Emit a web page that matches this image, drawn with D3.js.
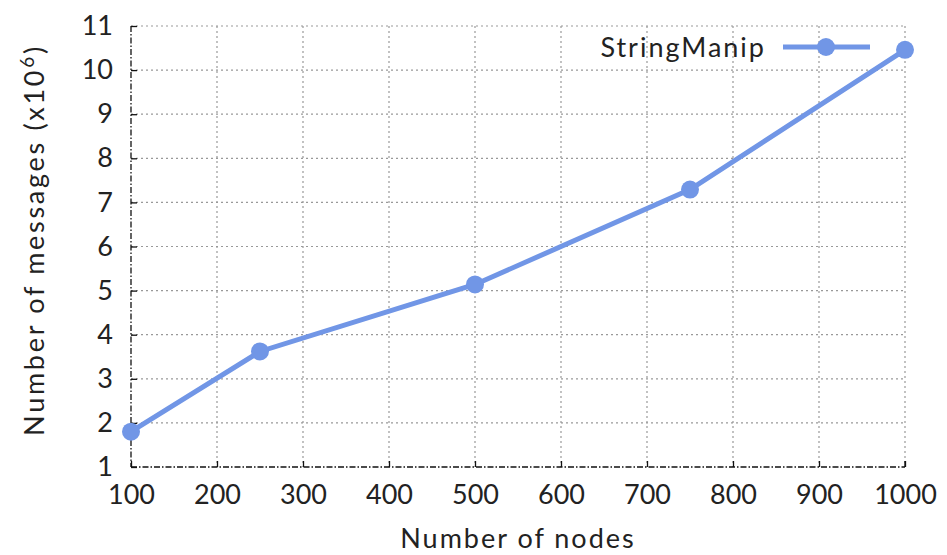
<!DOCTYPE html>
<html>
<head>
<meta charset="utf-8">
<script src="https://cdn.jsdelivr.net/npm/d3@7"></script>
<style>
  html, body { margin: 0; padding: 0; background: #fff; }
  svg { display: block; }
  text { font-family: Lato, "DejaVu Sans", sans-serif; fill: #222; }
</style>
</head>
<body>
<svg id="chart" width="947" height="555"></svg>
<script>
const nodes = [100, 250, 500, 750, 1000];
const messages = [1.8, 3.62, 5.14, 7.29, 10.46];
const seriesName = "StringManip";
const xTicks = [100, 200, 300, 400, 500, 600, 700, 800, 900, 1000];
const yTicks = [1, 2, 3, 4, 5, 6, 7, 8, 9, 10, 11];

const svg = d3.select("#chart");
const pLeft = 131, pRight = 905, pTop = 26, pBottom = 467;
const color = "#7196e6";

const x = d3.scaleLinear().domain([100, 1000]).range([pLeft, pRight]);
const y = d3.scaleLinear().domain([1, 11]).range([pBottom, pTop]);

// grid
const grid = svg.append("g");
grid.selectAll(".gx").data(xTicks.slice(1)).enter().append("line")
  .attr("x1", d => x(d)).attr("x2", d => x(d)).attr("y1", pTop).attr("y2", pBottom)
  .attr("stroke", "#999").attr("stroke-width", 1.2).attr("stroke-dasharray", "2,3");
grid.selectAll(".gy").data(yTicks.slice(1)).enter().append("line")
  .attr("x1", pLeft).attr("x2", pRight).attr("y1", d => y(d)).attr("y2", d => y(d))
  .attr("stroke", "#999").attr("stroke-width", 1.2).attr("stroke-dasharray", "2,3");

// axes frame (dash-dot)
svg.append("line").attr("x1", pLeft).attr("x2", pLeft).attr("y1", pTop).attr("y2", pBottom)
  .attr("stroke", "#111").attr("stroke-width", 1.3).attr("stroke-dasharray", "6,2,1.5,2");
svg.append("line").attr("x1", pLeft).attr("x2", pRight).attr("y1", pBottom).attr("y2", pBottom)
  .attr("stroke", "#111").attr("stroke-width", 1.3).attr("stroke-dasharray", "6,2,1.5,2");

// axes via d3
const xAxis = svg.append("g").attr("transform", `translate(0,${pBottom})`)
  .call(d3.axisBottom(x).tickValues(xTicks).tickSize(-6).tickPadding(22).tickFormat(d3.format("d")));
xAxis.select(".domain").remove();
xAxis.selectAll(".tick line").attr("stroke", "#111").attr("stroke-width", 1.3);
xAxis.selectAll(".tick text").attr("font-size", 27).attr("font-family", "Lato, sans-serif").attr("fill", "#2a2a2a").attr("dy", "0.71em").attr("y", 18);

const yAxis = svg.append("g").attr("transform", `translate(${pLeft},0)`)
  .call(d3.axisLeft(y).tickValues(yTicks).tickSize(-6).tickPadding(18).tickFormat(d3.format("d")));
yAxis.select(".domain").remove();
yAxis.selectAll(".tick line").attr("stroke", "#111").attr("stroke-width", 1.3);
yAxis.selectAll(".tick text").attr("font-size", 27).attr("font-family", "Lato, sans-serif").attr("fill", "#2a2a2a");

// right-side tick mark at x=1000
svg.append("line").attr("x1", pRight).attr("x2", pRight).attr("y1", pBottom).attr("y2", pBottom - 6)
  .attr("stroke", "#111").attr("stroke-width", 1.3);

// series
const data = nodes.map((n, i) => ({ n, v: messages[i] }));
svg.append("path").datum(data)
  .attr("fill", "none").attr("stroke", color).attr("stroke-width", 5)
  .attr("d", d3.line().x(d => x(d.n)).y(d => y(d.v)));
svg.selectAll(".pt").data(data).enter().append("circle")
  .attr("cx", d => x(d.n)).attr("cy", d => y(d.v)).attr("r", 9).attr("fill", color);

// legend
svg.append("text").attr("x", 766).attr("y", 57).attr("text-anchor", "end")
  .attr("font-size", 27).attr("letter-spacing", 2).text(seriesName);
svg.append("line").attr("x1", 783).attr("x2", 870).attr("y1", 47).attr("y2", 47)
  .attr("stroke", color).attr("stroke-width", 5);
svg.append("circle").attr("cx", 826).attr("cy", 47).attr("r", 9).attr("fill", color);

// axis titles
svg.append("text").attr("x", 518).attr("y", 548).attr("text-anchor", "middle")
  .attr("font-size", 27).attr("letter-spacing", 2).text("Number of nodes");
const yt = svg.append("text").attr("transform", "translate(44,240) rotate(-90)")
  .attr("text-anchor", "middle").attr("font-size", 27).attr("letter-spacing", 2.7);
yt.append("tspan").text("Number of messages (x10");
yt.append("tspan").attr("dy", -10).attr("font-size", 19).text("6");
yt.append("tspan").attr("dy", 10).text(")");
</script>
</body>
</html>
